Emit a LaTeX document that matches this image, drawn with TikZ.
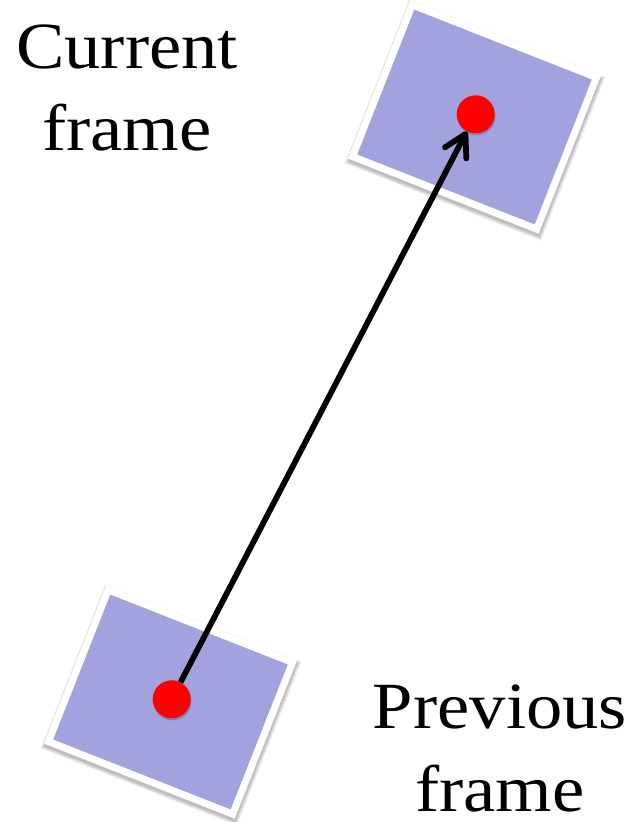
\documentclass[tikz,border=0pt]{standalone}
\usepackage{fontspec}
\newfontfamily\lblfont[FakeStretch=1.1]{Liberation Serif}
\usetikzlibrary{arrows.meta,shadows}
\definecolor{framefill}{RGB}{162,162,222}
\definecolor{dotred}{RGB}{255,0,0}
\tikzset{
  framebox/.style={rectangle, draw=white, fill=framefill, line width=5.25pt,
    minimum width=148.5pt, minimum height=122.25pt, inner sep=0pt, rotate=-21.5},
  softshade/.style={rectangle, fill=black, fill opacity=0.07, draw=none, inner sep=0pt,
    rotate=-21.5, minimum width=153.75pt+#1, minimum height=127.5pt+#1},
  reddot/.style={circle, fill=dotred, minimum size=28.5pt, inner sep=0pt,
    drop shadow={shadow xshift=0.6pt, shadow yshift=-1.5pt, opacity=0.2, fill=black}},
  lbl/.style={anchor=base, inner sep=0pt, font=\lblfont\fontsize{49.5pt}{60pt}\selectfont},
  motion/.style={line width=4.3pt, draw=black,
    -{Straight Barb[length=16pt, width=18pt, line cap=round, line join=round]}}
}
\begin{document}
\begin{tikzpicture}[x=0.75pt, y=-0.75pt]
\useasboundingbox (0,0) rectangle (638,822);
% soft shadows
\foreach \s in {0pt,1.5pt,3pt,4.5pt} {
  \node[softshade=\s] at (475,120) {};
  \node[softshade=\s] at (171,705) {};
}
\node[framebox] (curframe) at (474.5,117) {};
\node[framebox] (prevframe) at (170.5,702) {};
\node[reddot] (curdot) at (475.7,114.3) {};
\node[reddot] (prevdot) at (171.7,699.3) {};
\draw[motion] (prevdot) -- (curdot);
\node[lbl] (cur1) at (127,68) {Current};
\node[lbl] (cur2) at (127,150) {frame};
\node[lbl] (prev1) at (500,728) {Previous};
\node[lbl] (prev2) at (500,811) {frame};
\end{tikzpicture}
\end{document}
